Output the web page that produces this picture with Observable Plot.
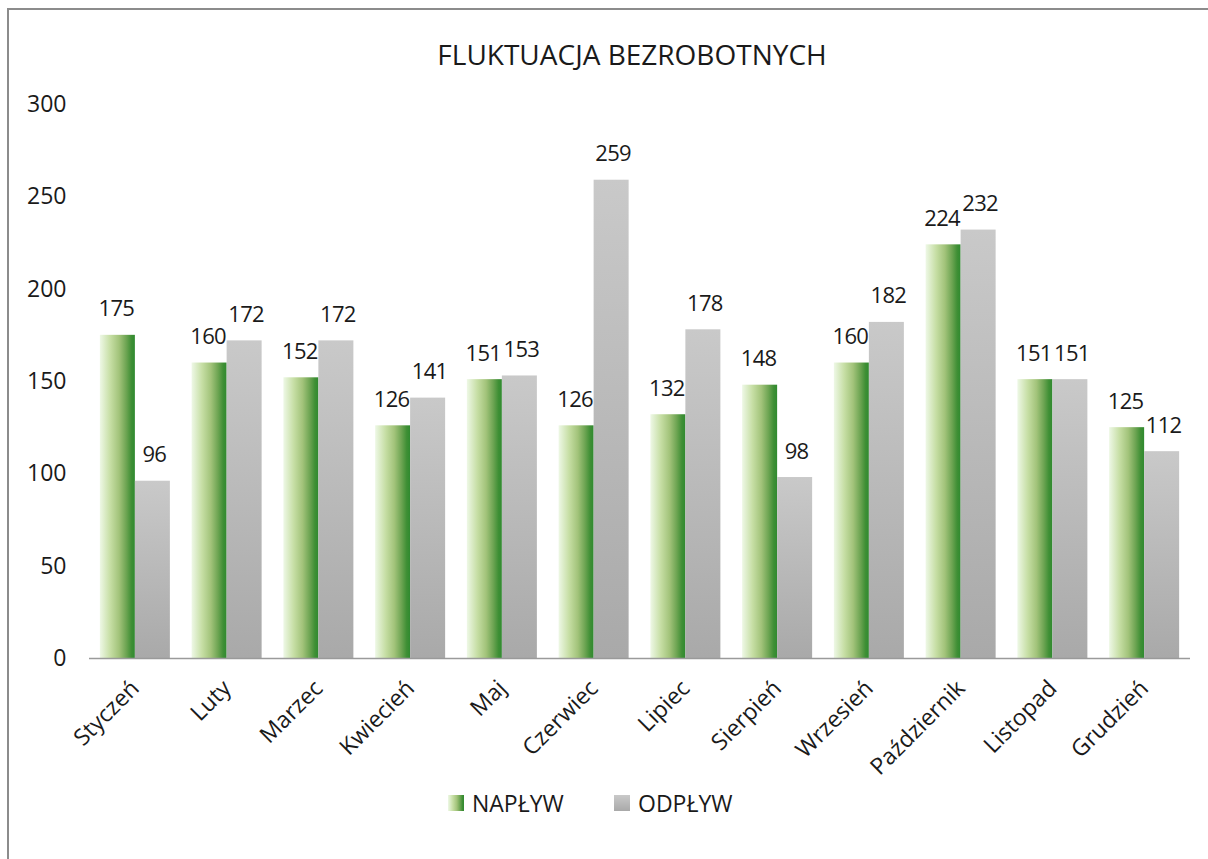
<!DOCTYPE html>
<html>
<head>
<meta charset="utf-8">
<script src="https://cdn.jsdelivr.net/npm/d3@7"></script>
<script src="https://cdn.jsdelivr.net/npm/@observablehq/plot@0.6"></script>
<style>
  html, body { margin: 0; padding: 0; background: #fff; }
  #wrap { position: relative; width: 1208px; height: 859px; overflow: hidden; font-family: 'Open Sans', sans-serif; color: #1a1a1a; }
  #border { position: absolute; left: 7px; top: 8px; width: 1300px; height: 1000px; border-left: 2px solid #8c8c8c; border-top: 2px solid #8c8c8c; }
  #title { position: absolute; left: 0; width: 1264px; top: 36px; text-align: center; font-size: 28px; line-height: 36px; color: #1a1a1a; }
  #chart { position: absolute; left: 0; top: 0; }
  .lg { position: absolute; top: 788px; font-size: 23px; line-height: 30px; color: #1a1a1a; display: flex; align-items: center; }
  .sw { width: 16px; height: 16px; margin-right: 8px; }
  .vlab text { letter-spacing: -0.6px; }
</style>
</head>
<body>
<div id="wrap">
  <div id="border"></div>
  <div id="chart"></div>
  <div id="title">FLUKTUACJA BEZROBOTNYCH</div>
  <div class="lg" style="left:448px"><div class="sw" style="background:linear-gradient(to right,#eef8e6,#c6dea4 30%,#a2c37a 55%,#6ea553 75%,#3f8f35 90%,#2f8a2f)"></div><span id="lg1"></span></div>
  <div class="lg" style="left:614px"><div class="sw" style="background:linear-gradient(to bottom,#c9c9c9,#a9a9a9)"></div><span id="lg2"></span></div>
</div>
<script>
const months = ["Styczeń","Luty","Marzec","Kwiecień","Maj","Czerwiec","Lipiec","Sierpień","Wrzesień","Październik","Listopad","Grudzień"];
const naplyw = [175,160,152,126,151,126,132,148,160,224,151,125];
const odplyw = [96,172,172,141,153,259,178,98,182,232,151,112];
const seriesNames = ["NAPŁYW","ODPŁYW"];
const yTicks = [0,50,100,150,200,250,300];

document.getElementById("lg1").textContent = seriesNames[0];
document.getElementById("lg2").textContent = seriesNames[1];

const rowsN = months.map((m, i) => ({month: m, series: seriesNames[0], value: naplyw[i]}));
const rowsO = months.map((m, i) => ({month: m, series: seriesNames[1], value: odplyw[i]}));

const half = 35;

const plot = Plot.plot({
  width: 1208,
  height: 780,
  marginLeft: 89,
  marginRight: 18,
  marginTop: 104,
  marginBottom: 122,
  style: {fontFamily: "'Open Sans', sans-serif", fontSize: "23px", color: "#1a1a1a", background: "transparent", overflow: "visible"},
  x: {domain: months, paddingInner: 0.237, paddingOuter: 0.1185, round: false, label: null, axis: null},
  y: {domain: [0, 300], axis: null},
  marks: [
    Plot.barY(rowsN, {x: "month", y: "value", fill: "url(#gradGreen)", insetRight: half}),
    Plot.barY(rowsO, {x: "month", y: "value", fill: "url(#gradGrey)", insetLeft: half}),
    Plot.ruleY([0], {stroke: "#9a9a9a", strokeWidth: 1.5}),
    Plot.axisY(yTicks, {tickSize: 0, tickPadding: 23, label: null, fontSize: 23, fill: "#1a1a1a"}),
    Plot.axisX({anchor: "bottom", tickRotate: -45, tickSize: 0, tickPadding: 26, label: null, fontSize: 23, fill: "#1a1a1a"}),
    Plot.text(rowsN, {x: "month", y: "value", text: d => String(d.value), dx: -half / 2 - 1.5, dy: -26, fontSize: 22, fill: "#1a1a1a", className: "vlab"}),
    Plot.text(rowsO, {x: "month", y: "value", text: d => String(d.value), dx: half / 2 + 1.5, dy: -26, fontSize: 22, fill: "#1a1a1a", className: "vlab"})
  ]
});

const NS = "http://www.w3.org/2000/svg";
const defs = document.createElementNS(NS, "defs");
function grad(id, x2, y2, stops) {
  const g = document.createElementNS(NS, "linearGradient");
  g.setAttribute("id", id);
  g.setAttribute("x1", "0"); g.setAttribute("y1", "0");
  g.setAttribute("x2", x2); g.setAttribute("y2", y2);
  for (const [o, c] of stops) {
    const s = document.createElementNS(NS, "stop");
    s.setAttribute("offset", o);
    s.setAttribute("stop-color", c);
    g.appendChild(s);
  }
  defs.appendChild(g);
}
grad("gradGreen", "1", "0", [[0, "#eef8e6"], [0.3, "#c6dea4"], [0.55, "#a2c37a"], [0.75, "#6ea553"], [0.9, "#3f8f35"], [1, "#2f8a2f"]]);
grad("gradGrey", "0", "1", [[0, "#c9c9c9"], [1, "#a9a9a9"]]);
plot.insertBefore(defs, plot.firstChild);

document.getElementById("chart").appendChild(plot);
</script>
</body>
</html>
